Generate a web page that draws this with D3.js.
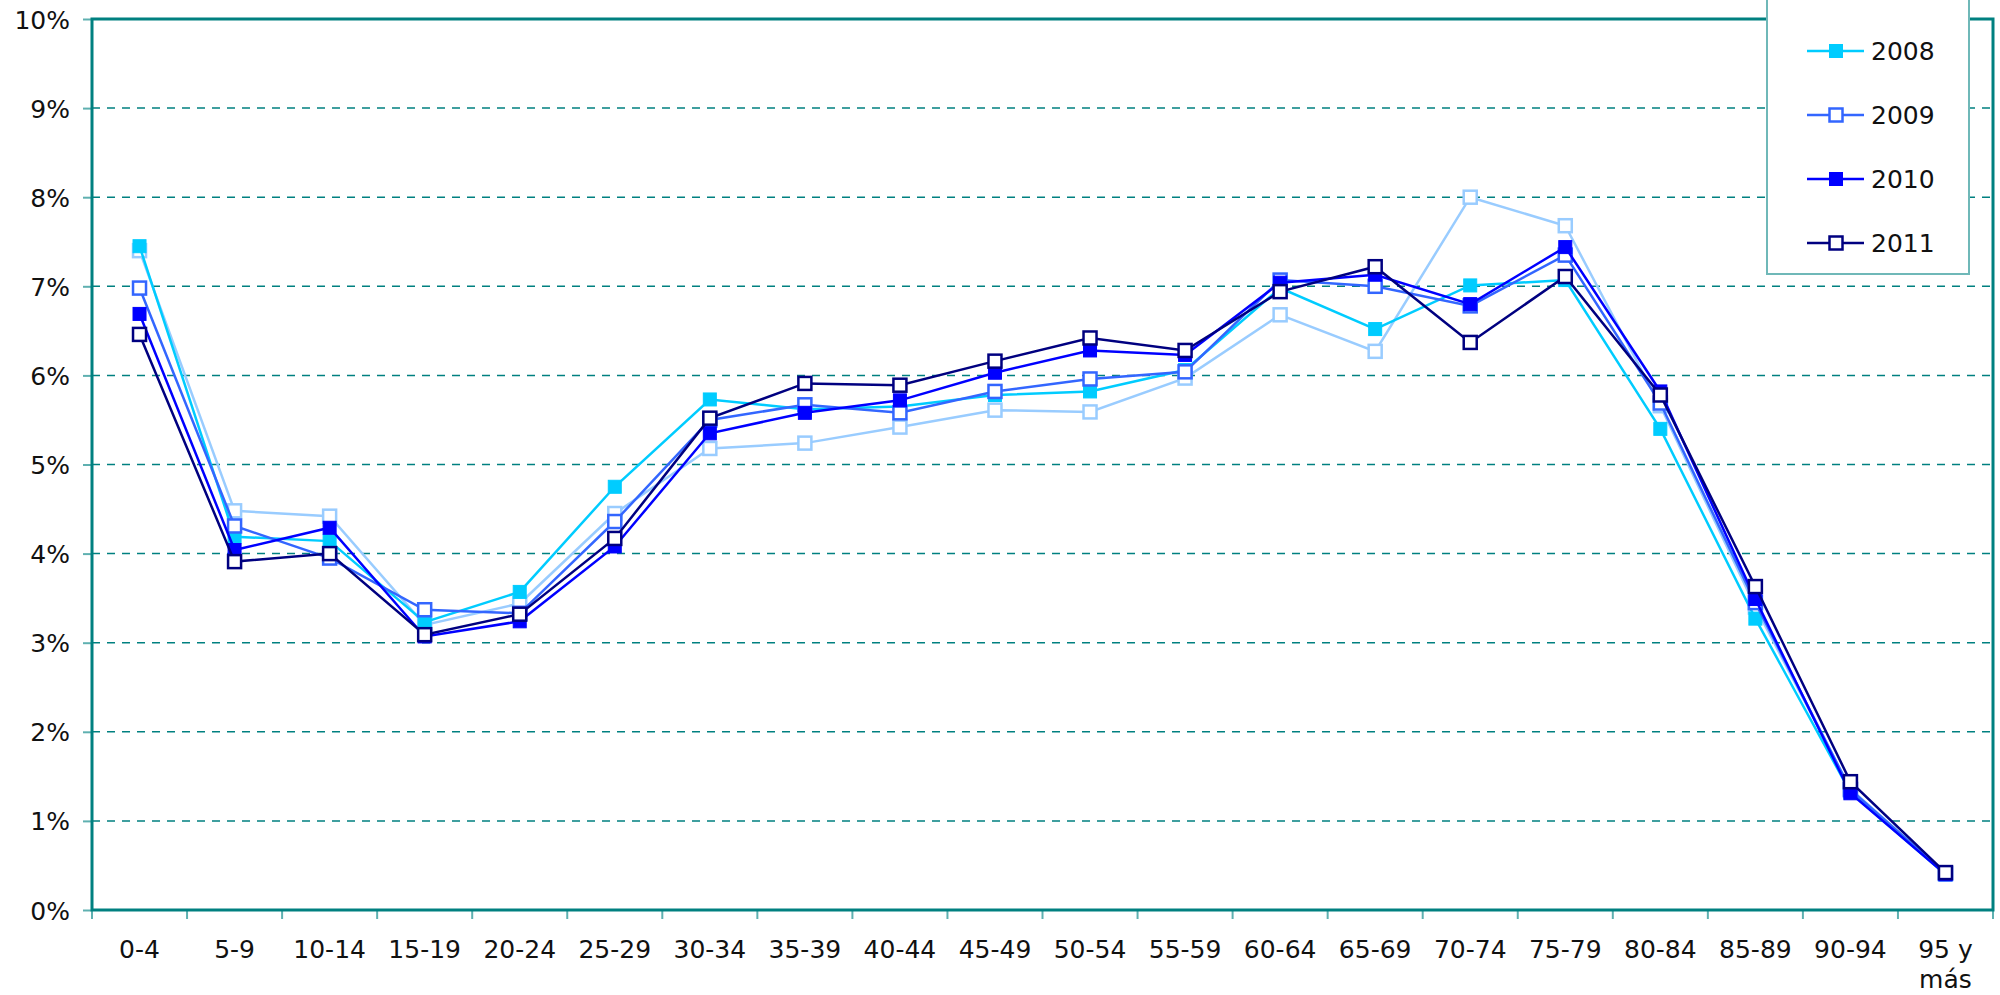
<!DOCTYPE html>
<html>
<head>
<meta charset="utf-8">
<script src="https://cdn.jsdelivr.net/npm/d3@7"></script>
<style>
  body { margin: 0; background: #fff; }
  svg text { font-family: "DejaVu Sans", Verdana, sans-serif; fill: #111; }
</style>
</head>
<body>
<div id="chart"></div>
<script>
const width = 2000,
      height = 995;

const margin = { top: 19, right: 7, bottom: 85, left: 92 };

// age groups
const categories = ['0-4', '5-9', '10-14', '15-19', '20-24', '25-29', '30-34', '35-39', '40-44', '45-49',
                    '50-54', '55-59', '60-64', '65-69', '70-74', '75-79', '80-84', '85-89', '90-94', '95 y más'];

const yTicks = [0, 1, 2, 3, 4, 5, 6, 7, 8, 9, 10];

// percent of population per age group
const values2007 = [7.40, 4.48, 4.42, 3.20, 3.44, 4.45, 5.18, 5.24, 5.42, 5.61, 5.59, 5.97, 6.68, 6.27, 8.00, 7.68, 5.66, 3.40, 1.36, 0.41];
const values2008 = [7.45, 4.19, 4.14, 3.23, 3.57, 4.75, 5.73, 5.62, 5.65, 5.78, 5.82, 6.06, 6.98, 6.52, 7.01, 7.07, 5.40, 3.27, 1.32, 0.40];
const values2009 = [6.98, 4.31, 3.95, 3.37, 3.33, 4.36, 5.50, 5.67, 5.58, 5.82, 5.96, 6.04, 7.07, 7.00, 6.78, 7.35, 5.69, 3.45, 1.35, 0.41];
const values2010 = [6.69, 4.04, 4.29, 3.07, 3.24, 4.08, 5.35, 5.58, 5.72, 6.03, 6.28, 6.23, 7.04, 7.13, 6.80, 7.44, 5.82, 3.49, 1.31, 0.40];
const values2011 = [6.46, 3.91, 4.00, 3.09, 3.32, 4.17, 5.52, 5.91, 5.89, 6.16, 6.42, 6.28, 6.94, 7.22, 6.37, 7.11, 5.78, 3.63, 1.44, 0.42];

const series = [
  { name: '2007', values: values2007, color: '#99ccff', filled: false },
  { name: '2008', values: values2008, color: '#00ccff', filled: true },
  { name: '2009', values: values2009, color: '#3366ff', filled: false },
  { name: '2010', values: values2010, color: '#0000ff', filled: true },
  { name: '2011', values: values2011, color: '#000080', filled: false }
];

const svg = d3.select('#chart')
              .append('svg')
              .attr('width', width)
              .attr('height', height);

const x = d3.scaleBand()
            .domain(categories)
            .range([margin.left, width - margin.right])
            .padding(0);

const y = d3.scaleLinear()
            .domain([0, 10])
            .range([height - margin.bottom, margin.top]);

const teal = '#008080';

// dashed gridlines
svg.append('g')
   .selectAll('line')
   .data(yTicks.slice(1, -1))
   .enter()
   .append('line')
   .attr('x1', margin.left)
   .attr('x2', width - margin.right)
   .attr('y1', d => y(d))
   .attr('y2', d => y(d))
   .attr('stroke', teal)
   .attr('stroke-width', 1.5)
   .attr('stroke-dasharray', '8,7');

// y axis
const yAxis = d3.axisLeft(y)
                .tickValues(yTicks)
                .tickSize(9)
                .tickPadding(13)
                .tickFormat(d => d + '%');

const yAxisGroup = svg.append('g')
                      .attr('transform', 'translate(' + margin.left + ',0)')
                      .call(yAxis);
yAxisGroup.select('.domain').remove();
yAxisGroup.selectAll('line').attr('stroke', '#5fb0b0').attr('stroke-width', 2);
yAxisGroup.selectAll('text')
          .style('font-size', '25px')
          .attr('dy', '0.36em');

// x axis ticks at band edges
const edges = categories.map(c => x(c)).concat([width - margin.right]);
svg.append('g')
   .selectAll('line')
   .data(edges)
   .enter()
   .append('line')
   .attr('x1', d => d)
   .attr('x2', d => d)
   .attr('y1', y(0))
   .attr('y2', y(0) + 9)
   .attr('stroke', '#5fb0b0')
   .attr('stroke-width', 2);

// x labels
const xLabels = svg.append('g')
                   .selectAll('text')
                   .data(categories)
                   .enter()
                   .append('text')
                   .attr('text-anchor', 'middle')
                   .attr('x', d => x(d) + x.bandwidth() / 2)
                   .attr('y', y(0) + 48)
                   .style('font-size', '25px');

xLabels.each(function(d) {
  const words = d.split(' ');
  const t = d3.select(this);
  if (words.length > 2) {
    t.append('tspan').attr('x', x(d) + x.bandwidth() / 2).text(words.slice(0, 2).join(' '));
    t.append('tspan').attr('x', x(d) + x.bandwidth() / 2).attr('dy', 30).text(words.slice(2).join(' '));
  } else {
    t.text(d);
  }
});

// plot frame
svg.append('rect')
   .attr('x', margin.left)
   .attr('y', margin.top)
   .attr('width', width - margin.right - margin.left)
   .attr('height', y(0) - margin.top)
   .attr('fill', 'none')
   .attr('stroke', teal)
   .attr('stroke-width', 3);

// lines
const line = d3.line()
               .x((d, i) => x(categories[i]) + x.bandwidth() / 2)
               .y(d => y(d));

const markerSize = 13;

series.forEach(function(s) {
  svg.append('path')
     .datum(s.values)
     .attr('d', line)
     .attr('fill', 'none')
     .attr('stroke', s.color)
     .attr('stroke-width', 2.5);

  svg.append('g')
     .selectAll('rect')
     .data(s.values)
     .enter()
     .append('rect')
     .attr('x', (d, i) => x(categories[i]) + x.bandwidth() / 2 - markerSize / 2)
     .attr('y', d => y(d) - markerSize / 2)
     .attr('width', markerSize)
     .attr('height', markerSize)
     .attr('fill', s.filled ? s.color : '#fff')
     .attr('stroke', s.color)
     .attr('stroke-width', s.filled ? 1 : 2.5);
});

// legend (its top runs off the picture, first entry not visible)
const legend = svg.append('g');

legend.append('rect')
      .attr('x', 1767)
      .attr('y', -80)
      .attr('width', 202)
      .attr('height', 354)
      .attr('fill', '#fff')
      .attr('stroke', '#6fb8b8')
      .attr('stroke-width', 2);

const legendItems = legend.selectAll('.item')
                          .data(series.slice(1))
                          .enter()
                          .append('g')
                          .attr('class', 'item')
                          .attr('transform', (d, i) => 'translate(1807,' + (51 + i * 64) + ')');

legendItems.append('line')
           .attr('x1', 0)
           .attr('x2', 57)
           .attr('stroke', d => d.color)
           .attr('stroke-width', 2.5);

legendItems.append('rect')
           .attr('x', 29 - markerSize / 2)
           .attr('y', -markerSize / 2)
           .attr('width', markerSize)
           .attr('height', markerSize)
           .attr('fill', d => d.filled ? d.color : '#fff')
           .attr('stroke', d => d.color)
           .attr('stroke-width', d => d.filled ? 1 : 2.5);

legendItems.append('text')
           .attr('x', 64)
           .attr('dy', '0.36em')
           .style('font-size', '25px')
           .text(d => d.name);
</script>
</body>
</html>
